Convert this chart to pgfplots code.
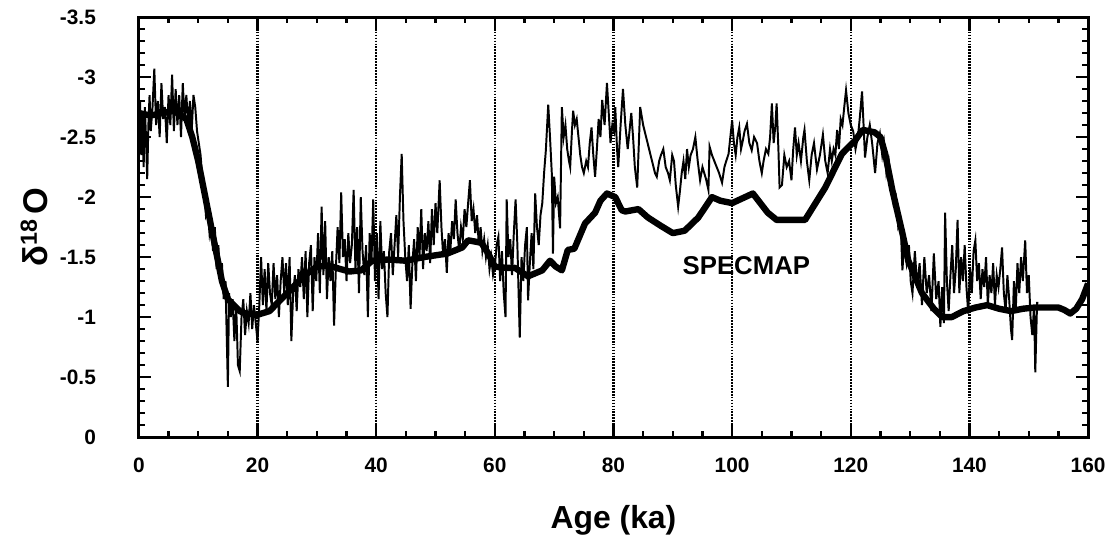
\documentclass[border=0pt]{standalone}
\usepackage{fontspec}
\setmainfont{Liberation Sans}
\usepackage{pgfplots}
\pgfplotsset{compat=1.18}
\begin{document}
\begin{tikzpicture}
\begin{axis}[
  scale only axis,
  width=13.6cm, height=6.02cm,
  xmin=0, xmax=160, ymin=-3.5, ymax=0,
  y dir=reverse,
  axis line style={line width=1.2pt},
  xtick={0,20,...,160},
  xticklabels={0,20,40,60,80,100,120,140,160},
  ytick={-3.5,-3,-2.5,-2,-1.5,-1,-0.5,0},
  yticklabels={-3.5,-3,-2.5,-2,-1.5,-1,-0.5,0},
  minor x tick num=3,
  minor y tick num=4,
  tick align=inside,
  major tick length=5pt,
  minor tick length=2.5pt,
  every tick/.style={black, line width=1pt},
  xmajorgrids,
  grid style={black, line width=0.9pt, dash pattern=on 0.7pt off 0.5pt},
  tick label style={font=\fontsize{8.5}{10}\selectfont\bfseries},
  yticklabel style={xshift=-14pt},
  xticklabel style={yshift=-5pt},
  xlabel={\fontsize{13}{15}\selectfont\bfseries Age (ka)},
  xlabel style={at={(axis description cs:0.5,-0.198)}, anchor=center},
  ylabel={\fontsize{14}{16}\selectfont\bfseries δ\raisebox{0.6ex}{\fontsize{9.5}{11}\selectfont 18}\,O},
  ylabel style={at={(axis description cs:-0.11,0.5)}, anchor=center},
  clip=true,
]
\addplot[black, line width=0.8pt] coordinates {
(0.0,-2.65)(0.2,-2.8)(0.4,-2.35)(0.6,-2.7)(0.8,-2.25)(1.0,-2.75)(1.2,-2.5)(1.4,-2.15)(1.6,-2.6)(1.8,-2.85)
(2.0,-2.55)(2.3,-2.75)(2.6,-3.07)(2.9,-2.6)(3.2,-2.8)(3.5,-2.5)(3.8,-2.95)(4.1,-2.65)(4.4,-2.75)(4.7,-2.45)
(5.0,-2.85)(5.3,-2.6)(5.6,-3.02)(5.9,-2.55)(6.2,-2.9)(6.5,-2.6)(6.8,-2.85)(7.1,-2.5)(7.4,-2.95)(7.7,-2.65)
(8.0,-2.85)(8.3,-2.6)(8.6,-2.8)(8.9,-2.55)(9.2,-2.85)(9.5,-2.75)(9.8,-2.55)(10.1,-2.45)(10.4,-2.35)(10.7,-2.15)
(11.0,-2.05)(11.3,-1.85)(11.6,-1.9)(11.9,-1.7)(12.2,-1.8)(12.5,-1.55)(12.8,-1.75)(13.1,-1.4)(13.4,-1.6)(13.7,-1.3)
(14.0,-1.45)(14.3,-1.15)(14.6,-1.3)(15.0,-0.42)(15.2,-1.2)(15.5,-1.0)(15.8,-1.15)(16.1,-0.8)(16.4,-1.1)(16.7,-0.6)
(17.0,-0.55)(17.3,-1.0)(17.6,-1.15)(17.9,-0.85)(18.2,-1.05)(18.5,-0.95)(18.8,-1.2)(19.1,-0.9)(19.4,-1.1)(19.7,-0.95)
(20.0,-0.8)(20.3,-1.1)(20.6,-1.5)(20.9,-1.1)(21.2,-1.4)(21.5,-1.05)(21.8,-1.45)(22.1,-1.2)(22.4,-1.1)(22.7,-1.45)
(23.0,-1.15)(23.3,-1.35)(23.6,-1.0)(23.9,-1.3)(24.2,-1.5)(24.5,-1.2)(24.8,-1.45)(25.1,-1.1)(25.4,-1.5)(25.7,-0.8)
(26.0,-1.2)(26.3,-1.35)(26.6,-1.05)(26.9,-1.4)(27.2,-1.25)(27.5,-1.5)(27.8,-1.15)(28.1,-1.55)(28.4,-1.0)(28.7,-1.45)
(29.0,-1.6)(29.3,-1.05)(29.6,-1.5)(29.9,-1.3)(30.2,-1.7)(30.5,-1.2)(30.8,-1.92)(31.1,-1.35)(31.4,-1.8)(31.7,-1.15)
(32.0,-1.5)(32.3,-1.3)(32.6,-1.55)(32.9,-0.93)(33.2,-1.4)(33.5,-1.75)(33.8,-1.45)(34.1,-2.04)(34.4,-1.5)(34.7,-1.65)
(35.0,-1.3)(35.3,-1.7)(35.6,-1.45)(35.9,-1.6)(36.2,-2.06)(36.5,-1.4)(36.8,-1.75)(37.1,-1.2)(37.4,-2.0)(37.7,-1.55)
(38.0,-1.35)(38.3,-1.6)(38.6,-1.0)(38.9,-1.7)(39.2,-1.45)(39.5,-1.98)(39.8,-1.3)(40.1,-1.7)(40.4,-1.15)(40.7,-1.8)
(41.0,-1.4)(41.3,-1.55)(41.6,-1.2)(41.9,-1.0)(42.2,-1.55)(42.5,-1.7)(42.8,-1.35)(43.1,-1.6)(43.4,-1.85)(43.7,-1.5)
(44.0,-2.0)(44.3,-2.36)(44.6,-1.8)(44.9,-1.5)(45.2,-1.3)(45.5,-1.6)(45.8,-1.07)(46.1,-1.45)(46.4,-1.65)(46.7,-1.3)
(47.0,-1.75)(47.3,-1.5)(47.6,-1.9)(47.9,-1.4)(48.2,-1.7)(48.5,-1.55)(48.8,-1.8)(49.1,-1.45)(49.4,-1.9)(49.7,-1.6)
(50.0,-1.95)(50.3,-1.7)(50.7,-2.14)(51.0,-1.75)(51.3,-1.5)(51.6,-1.65)(51.9,-1.37)(52.2,-1.7)(52.5,-1.55)(52.8,-1.8)
(53.1,-1.65)(53.4,-1.98)(53.7,-1.7)(54.0,-1.55)(54.3,-1.75)(54.6,-1.65)(54.9,-1.9)(55.2,-1.75)(55.5,-1.95)(55.8,-2.14)
(56.1,-1.8)(56.4,-1.9)(56.7,-1.7)(57.0,-1.85)(57.3,-1.6)(57.6,-1.75)(57.9,-1.55)(58.2,-1.65)(58.5,-1.5)(58.8,-1.6)
(59.1,-1.4)(59.4,-1.5)(59.7,-1.35)(60.0,-1.42)(60.3,-1.6)(60.6,-1.67)(60.9,-1.3)(61.2,-1.55)(61.5,-1.2)(61.8,-1.0)
(62.0,-1.98)(62.3,-1.5)(62.6,-1.65)(62.9,-1.35)(63.2,-1.7)(63.5,-1.98)(63.8,-1.6)(64.2,-0.83)(64.5,-1.5)(64.8,-1.3)
(65.1,-1.6)(65.4,-1.75)(65.6,-1.14)(65.9,-1.45)(66.2,-1.7)(66.5,-1.4)(66.8,-2.03)(67.1,-1.75)(67.4,-1.6)(67.7,-1.85)
(68.0,-1.95)(68.3,-2.2)(68.6,-2.39)(69.0,-2.77)(69.3,-2.5)(69.6,-2.2)(69.8,-1.53)(70.0,-2.17)(70.3,-1.95)(70.6,-2.0)
(71.0,-1.74)(71.3,-2.75)(71.6,-2.5)(71.9,-2.6)(72.2,-2.4)(72.5,-2.3)(72.7,-2.25)(73.0,-2.55)(73.2,-2.72)(73.5,-2.6)
(73.8,-2.65)(74.1,-2.5)(74.4,-2.35)(74.7,-2.25)(75.0,-2.2)(75.4,-2.3)(75.7,-2.25)(76.0,-2.45)(76.3,-2.58)(76.6,-2.35)
(76.9,-2.17)(77.2,-2.4)(77.5,-2.65)(77.8,-2.5)(78.1,-2.81)(78.5,-2.6)(78.9,-2.95)(79.2,-2.7)(79.5,-2.45)(79.8,-2.6)
(80.1,-2.55)(80.3,-2.75)(80.6,-2.4)(80.8,-2.25)(81.2,-2.6)(81.6,-2.9)(82.0,-2.6)(82.4,-2.4)(82.7,-2.55)(83.0,-2.7)
(83.3,-2.5)(83.6,-2.25)(84.0,-2.08)(84.5,-2.75)(85.0,-2.6)(85.5,-2.5)(86.0,-2.4)(86.5,-2.3)(87.0,-2.2)(87.3,-2.17)
(87.7,-2.3)(88.0,-2.35)(88.4,-2.4)(88.8,-2.25)(89.2,-2.2)(89.5,-2.14)(89.9,-2.35)(90.2,-2.3)(90.5,-2.1)(90.9,-1.92)
(91.2,-2.05)(91.5,-2.2)(91.8,-2.3)(92.1,-2.15)(92.4,-2.4)(92.7,-2.25)(93.0,-2.35)(93.4,-2.4)(93.8,-2.5)(94.2,-2.3)
(94.6,-2.14)(95.0,-2.25)(95.3,-2.2)(95.6,-2.15)(96.0,-2.06)(96.2,-2.42)(96.6,-2.35)(97.0,-2.3)(97.4,-2.25)(97.8,-2.2)
(98.3,-2.12)(98.7,-2.25)(99.0,-2.3)(99.4,-2.36)(99.7,-2.5)(100.0,-2.64)(100.3,-2.45)(100.6,-2.35)(100.9,-2.5)(101.2,-2.58)
(101.5,-2.4)(101.8,-2.47)(102.1,-2.55)(102.5,-2.61)(102.9,-2.45)(103.3,-2.39)(103.7,-2.5)(104.2,-2.45)(104.6,-2.3)(105.0,-2.2)
(105.3,-2.3)(105.7,-2.4)(106.1,-2.36)(106.4,-2.5)(106.7,-2.78)(107.0,-2.45)(107.3,-2.6)(107.5,-2.78)(107.8,-2.4)(108.0,-2.08)
(108.4,-2.1)(108.8,-2.35)(109.2,-2.25)(109.6,-2.3)(110.0,-2.14)(110.3,-2.4)(110.6,-2.58)(110.9,-2.35)(111.2,-2.45)(111.6,-2.3)
(112.0,-2.5)(112.2,-2.56)(112.6,-2.3)(113.0,-2.14)(113.4,-2.35)(113.8,-2.45)(114.3,-2.23)(114.8,-2.35)(115.3,-2.52)(115.7,-2.3)
(116.1,-2.2)(116.5,-2.4)(116.8,-2.3)(117.1,-2.4)(117.4,-2.35)(117.7,-2.56)(118.0,-2.4)(118.3,-2.65)(118.6,-2.6)(118.9,-2.75)
(119.2,-2.89)(119.6,-2.7)(120.0,-2.6)(120.4,-2.55)(120.8,-2.4)(121.2,-2.5)(121.5,-2.65)(121.9,-2.88)(122.2,-2.55)(122.4,-2.33)
(122.8,-2.5)(123.2,-2.6)(123.6,-2.45)(124.1,-2.2)(124.5,-2.45)(124.9,-2.53)(125.3,-2.35)(125.6,-2.45)(126.0,-2.2)(126.4,-2.3)
(126.8,-2.1)(127.2,-1.95)(127.6,-2.0)(128.0,-1.75)(128.4,-1.8)(128.7,-1.39)(129.0,-1.6)(129.4,-1.45)(129.8,-1.6)(130.1,-1.3)
(130.4,-1.2)(130.8,-1.55)(131.2,-1.25)(131.6,-1.45)(132.0,-1.1)(132.4,-1.5)(132.8,-1.2)(133.2,-1.35)(133.6,-1.05)(134.0,-1.53)
(134.4,-1.15)(134.8,-1.3)(135.1,-0.92)(135.4,-1.25)(135.7,-0.95)(135.9,-1.87)(136.2,-1.3)(136.5,-1.05)(136.8,-1.35)(137.1,-1.6)
(137.4,-1.2)(137.7,-1.4)(138.0,-1.81)(138.3,-1.2)(138.6,-1.5)(138.9,-1.3)(139.2,-1.6)(139.5,-1.25)(139.8,-1.03)(140.1,-1.4)
(140.4,-1.2)(140.7,-1.55)(141.0,-1.64)(141.3,-1.3)(141.6,-1.45)(141.9,-1.15)(142.2,-1.4)(142.5,-1.25)(142.8,-1.5)(143.1,-1.1)
(143.4,-1.35)(143.7,-1.2)(144.0,-1.45)(144.3,-1.1)(144.6,-1.35)(144.9,-1.25)(145.2,-1.4)(145.5,-1.58)(145.8,-1.2)(146.1,-1.05)
(146.4,-1.35)(146.7,-1.15)(147.0,-0.9)(147.2,-0.81)(147.5,-1.3)(147.8,-1.05)(148.1,-1.45)(148.4,-1.2)(148.7,-1.5)(149.0,-1.3)
(149.4,-1.64)(149.7,-1.2)(150.0,-1.35)(150.3,-1.0)(150.6,-0.85)(150.9,-1.1)(151.1,-0.54)(151.4,-1.12)(151.6,-1.12)
};
\addplot[black, line width=2.6pt, line join=round] coordinates {
(0,-2.7)(2,-2.68)(4,-2.7)(6,-2.72)(8,-2.65)(9,-2.5)(10,-2.3)(11,-2.05)(12,-1.8)(13,-1.55)(14,-1.3)(15,-1.15)
(16,-1.1)(17,-1.05)(18,-1.03)(20,-1.02)(22,-1.05)(24,-1.15)(26,-1.25)(28,-1.35)(30,-1.42)(32,-1.43)(34,-1.4)
(35.5,-1.38)(37.5,-1.39)(39.3,-1.47)(42,-1.48)(45,-1.47)(48,-1.5)(52,-1.53)(54.5,-1.58)(55.5,-1.64)(57.7,-1.62)
(58.9,-1.53)(60,-1.42)(62,-1.41)(63.4,-1.41)(65.6,-1.34)(68,-1.39)(69.3,-1.47)(70.3,-1.42)(71.3,-1.39)(72.3,-1.56)
(73.4,-1.57)(75.2,-1.78)(76.9,-1.87)(77.8,-1.97)(78.9,-2.03)(80.3,-2.0)(81.4,-1.89)(82,-1.88)(84.2,-1.9)(85.8,-1.83)
(88,-1.76)(90,-1.70)(92,-1.72)(94.3,-1.83)(96.6,-2.0)(98,-1.97)(100,-1.95)(103.5,-2.03)(106,-1.87)(107.5,-1.81)
(112.3,-1.81)(115.7,-2.08)(118.5,-2.36)(120.7,-2.47)(122,-2.56)(124,-2.54)(125,-2.5)(125.8,-2.36)(127,-2.06)
(128.7,-1.7)(129.7,-1.47)(132,-1.2)(134,-1.07)(135.4,-1.0)(137,-1.0)(139,-1.05)(141,-1.08)(143,-1.1)(145,-1.07)
(147,-1.05)(149,-1.07)(151,-1.08)(153,-1.08)(155,-1.08)(156,-1.06)(157,-1.03)(158,-1.07)(159,-1.15)(160,-1.28)
};
\node[font=\fontsize{10.5}{12}\selectfont\bfseries] at (axis cs:102.4,-1.43) {SPECMAP};
\end{axis}
\path ([xshift=-1.99cm,yshift=-1.59cm]current axis.south west) rectangle ([xshift=0.4cm,yshift=0.244cm]current axis.north east);
\end{tikzpicture}
\end{document}
